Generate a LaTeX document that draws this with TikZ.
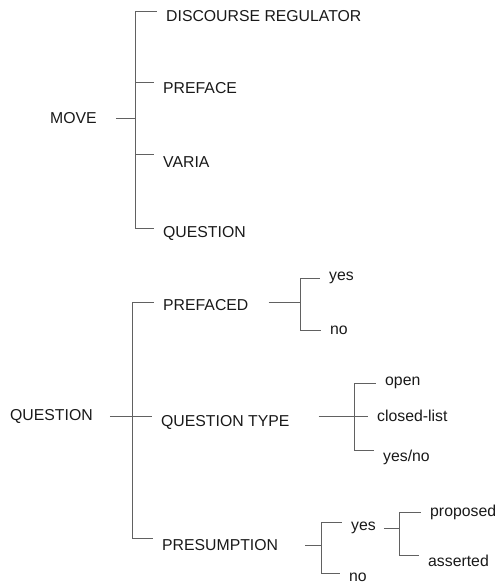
\documentclass[tikz,border=0pt]{standalone}
\usepackage{fontspec}
\setmainfont{Liberation Sans}
\begin{document}
\begin{tikzpicture}[
    x=1pt, y=-1pt,
    label/.style={anchor=west, inner sep=0pt, text=black!90, font=\fontsize{15.8}{18}\selectfont},
    link/.style={draw=black!62, line width=0.8pt},
    tick/.style={link, shorten >=9pt}
]
    \useasboundingbox (0,0) rectangle (495,584);

    % Move tree
    \node[label] (move) at (50,118) {MOVE};
    \node[label] (regulator) at (166,16) {DISCOURSE REGULATOR};
    \node[label] (preface) at (163,88) {PREFACE};
    \node[label] (varia) at (163,162) {VARIA};
    \node[label] (quest) at (163,233) {QUESTION};
    \coordinate (jmove) at (135,118);

    \draw[link, shorten <=19pt] (move) -- (jmove);
    \draw[tick] (jmove) |- ([yshift=5pt]regulator.west);
    \draw[tick] (jmove) |- ([yshift=6pt]preface.west);
    \draw[tick] (jmove) |- ([yshift=8pt]varia.west);
    \draw[tick] (jmove) |- ([yshift=5pt]quest.west);

    % Question tree
    \node[label] (question) at (10,416) {QUESTION};
    \node[label] (prefaced) at (163,305) {PREFACED};
    \node[label] (qtype) at (161,422) {QUESTION TYPE};
    \node[label] (presump) at (162,545) {PRESUMPTION};
    \coordinate (jquest) at (132,416);

    \draw[link, shorten <=17pt] (question) -- (jquest);
    \draw[tick] (jquest) |- ([yshift=3pt]prefaced.west);
    \draw[tick] (jquest) -- ([yshift=6pt]qtype.west);
    \draw[tick] (jquest) |- ([yshift=7pt]presump.west);

    % Prefaced
    \node[label] (yesA) at (329,278) {yes};
    \node[label] (noA) at (330,330) {no};
    \coordinate (jpref) at (300,302);

    \draw[link] ([xshift=20pt,yshift=3pt]prefaced.east) -- (jpref);
    \draw[tick] (jpref) |- (yesA.west);
    \draw[tick] (jpref) |- (noA.west);

    % Question type
    \node[label] (open) at (385,383) {open};
    \node[label] (closed) at (377,416) {closed-list};
    \node[label] (yesno) at (383,457) {yes/no};
    \coordinate (jtype) at (354,416);

    \draw[link] ([xshift=29pt,yshift=6pt]qtype.east) -- (jtype);
    \draw[tick] (jtype) |- (open.west);
    \draw[tick] (jtype) -- (closed.west);
    \draw[tick] (jtype) |- ([yshift=7pt]yesno.west);

    % Presumption
    \node[label] (yesB) at (351,528) {yes};
    \node[label] (noB) at (349,577) {no};
    \coordinate (jpres) at (321,545);

    \draw[link] ([xshift=27pt]presump.east) -- (jpres);
    \draw[tick] (jpres) |- ([yshift=6pt]yesB.west);
    \draw[tick] (jpres) |- ([yshift=4pt]noB.west);

    % Presumed yes
    \node[label] (proposed) at (430,512) {proposed};
    \node[label] (asserted) at (428,561) {asserted};
    \coordinate (jyes) at (399,528);

    \draw[link] ([xshift=8pt]yesB.east) -- (jyes);
    \draw[tick] (jyes) |- (proposed.west);
    \draw[tick] (jyes) |- ([yshift=6pt]asserted.west);

\end{tikzpicture}
\end{document}
